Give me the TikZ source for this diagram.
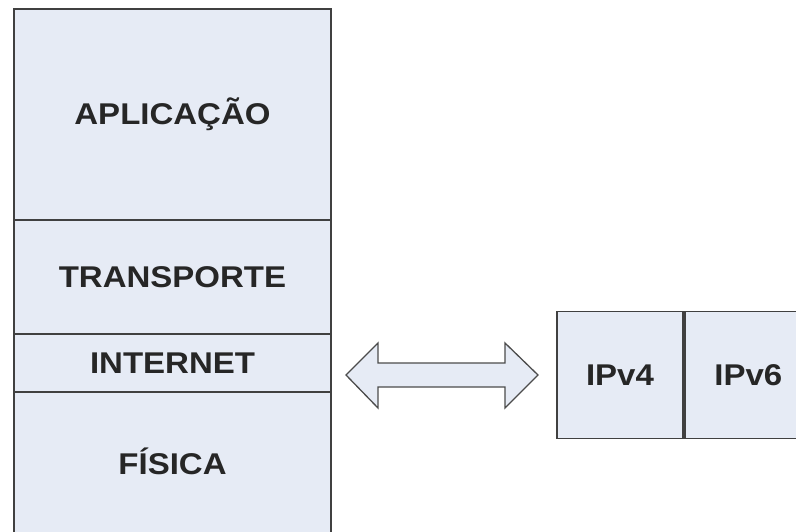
\documentclass[tikz,border=0pt]{standalone}
\usepackage{fontspec}
\setmainfont[FakeStretch=1.1]{Liberation Sans}
\begin{document}
\begin{tikzpicture}[x=1pt,y=-1pt,
  layer/.style={draw=black!75, line width=1.8pt, fill=boxfill, inner sep=0pt,
    font=\bfseries\fontsize{30}{34}\selectfont, text=black!85},
  ipbox/.style={layer}]
\definecolor{boxfill}{HTML}{E6EBF5}
\useasboundingbox (0,0) rectangle (796,532);
\begin{scope}
\clip (0,0) rectangle (796,532);
% protocol stack
\node[layer, minimum width=317, minimum height=211] (app) at (172.5,114.5) {APLICAÇÃO};
\node[layer, minimum width=317, minimum height=114] (trans) at (172.5,277) {TRANSPORTE};
\node[layer, minimum width=317, minimum height=58] (inet) at (172.5,363) {INTERNET};
\node[layer, minimum width=317, minimum height=150] (fis) at (172.5,467) {\raisebox{12pt}{FÍSICA}};
% IP versions
\node[ipbox, minimum width=126, minimum height=127] (v4) at (620,375) {IPv4};
\node[ipbox, minimum width=127, minimum height=127, anchor=west] (v6) at (v4.east) {IPv6};
% double arrow between the layers
\coordinate (l) at (346,375);
\coordinate (r) at (538,375);
\draw[draw=black!70, line width=1.3pt, fill=boxfill, line join=miter]
  (l) -- (378,343) -- (378,363) -- (505,363) -- (505,343) -- (r)
  -- (505,408) -- (505,387) -- (378,387) -- (378,408) -- cycle;
\end{scope}
\end{tikzpicture}
\end{document}
